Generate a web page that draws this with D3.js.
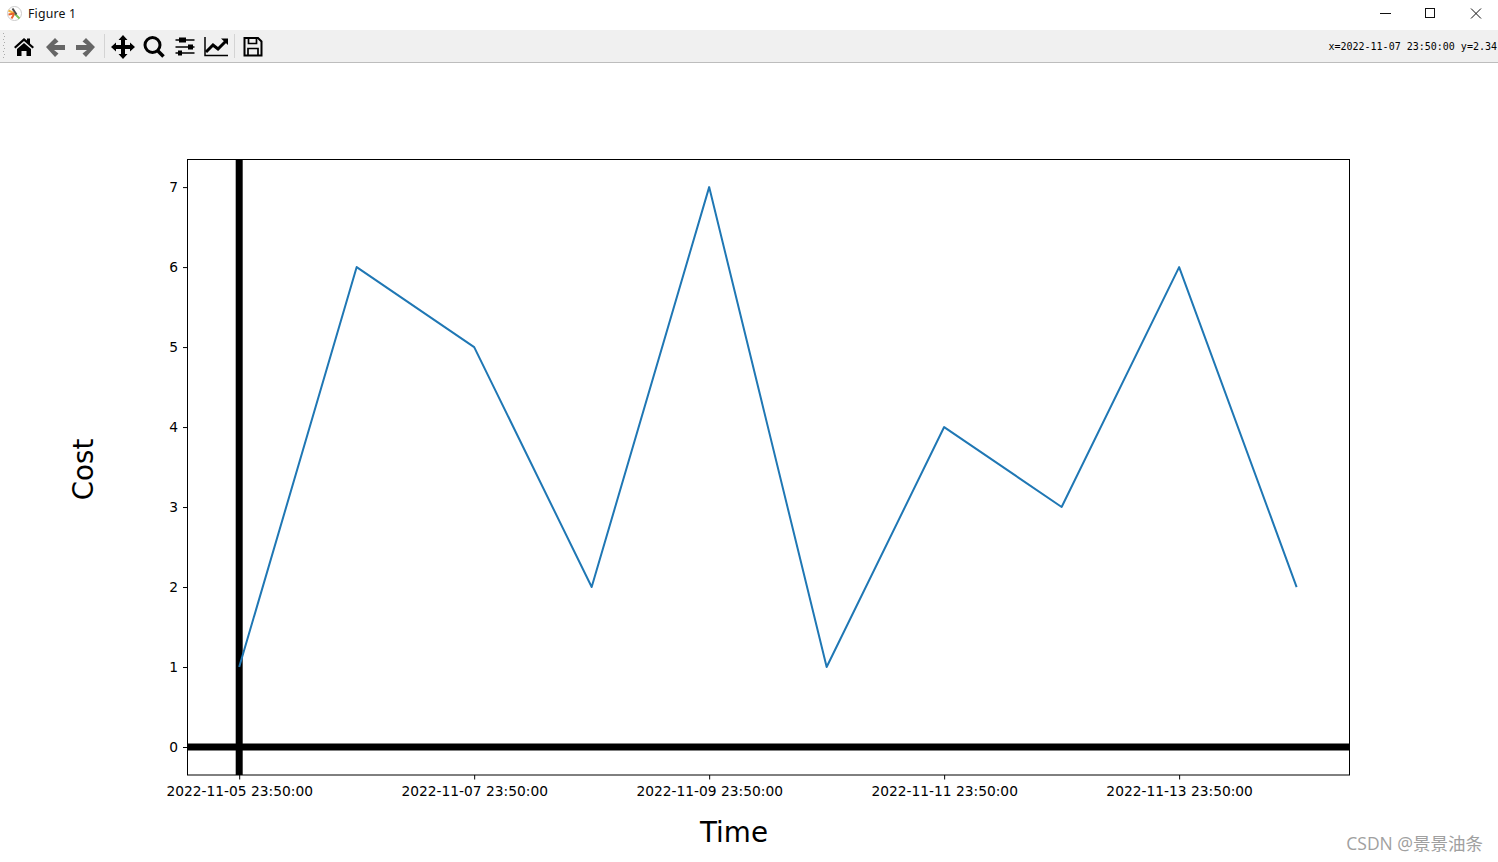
<!DOCTYPE html>
<html><head><meta charset="utf-8">
<style>html,body{margin:0;padding:0;background:#fff;overflow:hidden}svg{display:block}</style>
<script src="https://cdn.jsdelivr.net/npm/d3@7/dist/d3.min.js"></script></head>
<body><svg id="c" width="1498" height="862"></svg>
<script>
const dates = ["2022-11-05","2022-11-06","2022-11-07","2022-11-08","2022-11-09","2022-11-10","2022-11-11","2022-11-12","2022-11-13","2022-11-14"];
const costs = [1,6,5,2,7,1,4,3,6,2];
const xTickDates = ["2022-11-05","2022-11-07","2022-11-09","2022-11-11","2022-11-13"];
const yTicks = [0,1,2,3,4,5,6,7];
const windowTitle = "Figure 1";
const statusText = "x=2022-11-07 23:50:00 y=2.34";
const watermark = "CSDN @景景油条";
const xLabel = "Time", yLabel = "Cost";

const parse = s => new Date(s+"T23:50:00Z");
const fmt = d3.utcFormat("%Y-%m-%d %H:%M:%S");
const svg = d3.select("#c");
const L=187.5,R=1349.5,T=159.5,B=775;
const FONT="'DejaVu Sans',sans-serif";
const x = d3.scaleUtc().domain([new Date(+parse(dates[0])-0.44*864e5), new Date(+parse(dates[9])+0.45*864e5)]).range([L,R]);
const y = d3.scaleLinear().domain([-0.35,7.345]).range([B,T]);

// window chrome
svg.append("rect").attr("x",0).attr("y",30).attr("width",1498).attr("height",32).attr("fill","#f0f0f0");
svg.append("rect").attr("x",0).attr("y",62).attr("width",1498).attr("height",1).attr("fill","#bdbdbd");
svg.append("text").attr("x",28).attr("y",18).attr("font-family","'Noto Sans','Open Sans',sans-serif").attr("font-size",12.3).attr("letter-spacing",0.2).attr("fill","#111").text(windowTitle);
// app icon
const ic=svg.append("g").attr("transform","translate(14.5,13.5)");
ic.append("circle").attr("r",7).attr("fill","#fff").attr("stroke","#ccc");
[["#f2b33d","M0,0L-6,-3"],["#e8632b","M0,0L-3,5"],["#79c257","M0,0L5,5"],["#4a4a4a","M-2,-5L2,1"],["#e8632b","M0,0L-6,1"]].forEach(a=>ic.append("path").attr("d",a[1]).attr("stroke",a[0]).attr("stroke-width",2));
// win buttons
svg.append("path").attr("d","M1380,13.5H1391").attr("stroke","#111").attr("fill","none");
svg.append("rect").attr("x",1425.5).attr("y",8.5).attr("width",9).attr("height",9).attr("fill","none").attr("stroke","#111");
svg.append("path").attr("d","M1471,8.5L1481,18.5M1481,8.5L1471,18.5").attr("stroke","#111").attr("fill","none");
// toolbar grip + separators
for(let i=0;i<9;i++) svg.append("rect").attr("x",3+(i%2)).attr("y",33+i*3).attr("width",1).attr("height",1).attr("fill","#aaa");
[104.5,234.5].forEach(v=>svg.append("path").attr("d",`M${v},34V58`).attr("stroke","#d4d4d4"));
// toolbar icons
const icon=(d,o={})=>svg.append("path").attr("d",d).attr("fill",o.fill||"#000");
icon("M14,47L24,38L27,40.5V38.5H30V43.5L34,47L32.5,48.5L24,41L15.5,48.5ZM17,49L24,43L31,49V56H26.5V51H21.5V56H17Z");
icon("M46,47L55,38L58.5,41.5L54,45H65V50H54L58.5,53.5L55,57Z",{fill:"#666"});
icon("M95,47L86,38L82.5,41.5L87,45H76V50H87L82.5,53.5L86,57Z",{fill:"#666"});
icon("M123,35L127.5,40H125V45H130V42.5L135,47L130,51.5V49H125V54H127.5L123,59L118.5,54H121V49H116V51.5L111,47L116,42.5V45H121V40H118.5Z");
svg.append("circle").attr("cx",152.5).attr("cy",45).attr("r",7.5).attr("fill","none").attr("stroke","#000").attr("stroke-width",3);
svg.append("path").attr("d","M157.5,50.5L163.5,56.5").attr("stroke","#000").attr("stroke-width",3.5);
[[40,179,186],[47,188,193],[53,178,182]].forEach(a=>{
 svg.append("path").attr("d",`M175.5,${a[0]}H194.5`).attr("stroke","#000").attr("stroke-width",1.5);
 svg.append("rect").attr("x",a[1]).attr("y",a[0]-2.5).attr("width",a[2]-a[1]).attr("height",5).attr("fill","#000");
});
svg.append("path").attr("d","M205,37V55.5H228").attr("stroke","#000").attr("stroke-width",1.5).attr("fill","none");
svg.append("path").attr("d","M206,52L213,45L218,49L226,41").attr("stroke","#000").attr("stroke-width",3).attr("fill","none");
icon("M221,38.5H228V45Z");
svg.append("path").attr("d","M244.5,38H258L261.5,41.5V55.5H244.5Z").attr("fill","none").attr("stroke","#000").attr("stroke-width",2);
svg.append("path").attr("d","M248.5,38V43.5H256.5V38M248,55V48.5H258V55").attr("fill","none").attr("stroke","#000").attr("stroke-width",1.7);
// status
svg.append("text").attr("x",1497).attr("y",49.5).attr("text-anchor","end").attr("font-family","'DejaVu Sans Mono',monospace").attr("font-size",10).attr("fill","#000").text(statusText);

// thick spines
svg.append("defs").append("clipPath").attr("id","pl").append("rect").attr("x",L).attr("y",T).attr("width",R-L).attr("height",B-T);
const plot=svg.append("g").attr("clip-path","url(#pl)");
plot.append("line").attr("x1",x(parse(dates[0]))).attr("x2",x(parse(dates[0]))).attr("y1",T).attr("y2",B).attr("stroke","#000").attr("stroke-width",7);
plot.append("line").attr("x1",L).attr("x2",R).attr("y1",y(0)).attr("y2",y(0)).attr("stroke","#000").attr("stroke-width",7);
// series
plot.append("path").datum(costs).attr("fill","none").attr("stroke","#1f77b4").attr("stroke-width",2).attr("stroke-linejoin","round")
 .attr("d",d3.line().x((d,i)=>x(parse(dates[i]))).y(d=>y(d)));
// frame
svg.append("rect").attr("x",L).attr("y",T).attr("width",R-L).attr("height",B-T).attr("fill","none").attr("stroke","#000").attr("stroke-width",1);
// axes
const xa=svg.append("g").attr("transform",`translate(0,${B})`).call(d3.axisBottom(x).tickValues(xTickDates.map(parse)).tickFormat(fmt).tickSize(4.5).tickPadding(6.5));
const ya=svg.append("g").attr("transform",`translate(${L},0)`).call(d3.axisLeft(y).tickValues(yTicks).tickSize(4.5).tickPadding(5));
[xa,ya].forEach(g=>{g.select(".domain").remove();g.selectAll("text").attr("font-family",FONT).attr("font-size",13.8).attr("fill","#000");g.selectAll("line").attr("stroke","#000");});
// labels
svg.append("text").attr("x",734).attr("y",842).attr("text-anchor","middle").attr("font-family",FONT).attr("font-size",27.78).attr("fill","#000").text(xLabel);
svg.append("text").attr("transform","translate(92.5,469.5) rotate(-90)").attr("text-anchor","middle").attr("font-family",FONT).attr("font-size",27.78).attr("fill","#000").text(yLabel);
// watermark
svg.append("text").attr("x",1483).attr("y",850).attr("text-anchor","end").attr("font-family","'Open Sans','Noto Sans CJK SC',sans-serif").attr("font-size",17.5).attr("fill","#a0a0a0").text(watermark);
</script></body></html>
